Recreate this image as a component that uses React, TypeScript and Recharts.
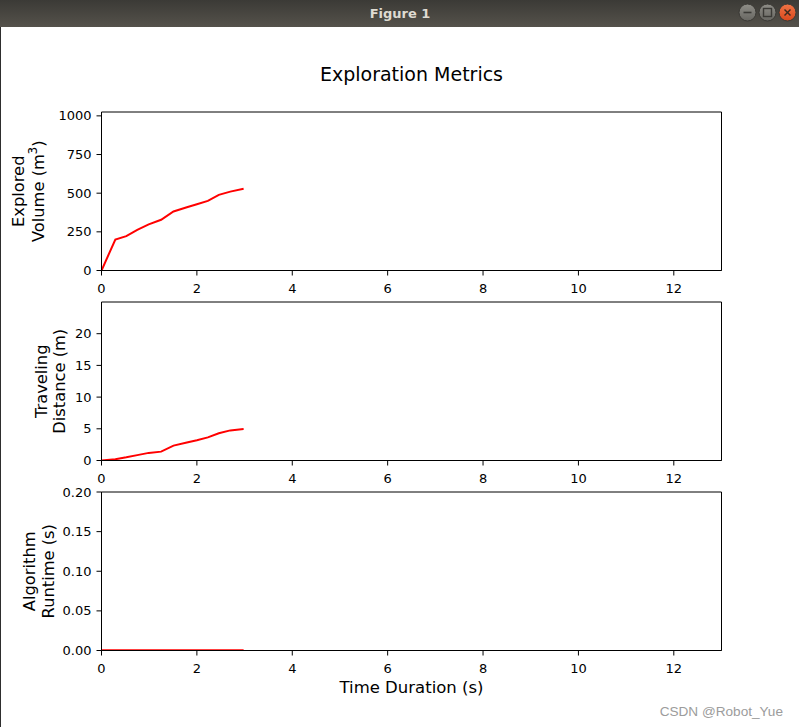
import React from 'react';
import { LineChart, Line, XAxis, YAxis, ReferenceArea } from 'recharts';

// ---- data ----
const timeS = [0, 0.29, 0.52, 0.75, 0.99, 1.25, 1.51, 1.79, 2.0, 2.23, 2.46, 2.7, 2.98];
const exploredVolume = [0, 200, 222, 263, 298, 328, 382, 409, 428, 450, 489, 510, 529];
const travelDistance = [0, 0.2, 0.5, 0.85, 1.2, 1.4, 2.35, 2.85, 3.2, 3.65, 4.3, 4.75, 4.95];
const algoRuntime = [0.0004, 0.0004, 0.0004, 0.0004, 0.0004, 0.0004, 0.0004, 0.0004, 0.0004, 0.0004, 0.0004, 0.0004, 0.0004];

const xTicks = [0, 2, 4, 6, 8, 10, 12];
const volumeTicks = [0, 250, 500, 750, 1000];
const distanceTicks = [0, 5, 10, 15, 20];
const runtimeTicks = [0, 0.05, 0.1, 0.15, 0.2];

const figureTitle = 'Exploration Metrics';
const xLabelText = 'Time Duration (s)';
const windowTitle = 'Figure 1';
const watermark = 'CSDN @Robot_Yue';

const FONT = "'DejaVu Sans', sans-serif";
const PLOT_TOP = 10;
const PLOT_H = 158.5;
const TICK_FS = 13;

type YLab = { line1: React.ReactNode; line2: React.ReactNode; b1: number; b2: number };

function makeYLabel(lab: YLab) {
  return (props: any) => {
    const vb = props && props.viewBox;
    const cy = vb && typeof vb.y === 'number' ? vb.y + vb.height / 2 : PLOT_TOP + PLOT_H / 2;
    const common = { textAnchor: 'middle' as const, fontSize: 16.3, fontFamily: FONT, fill: '#000' };
    return (
      <g>
        <text {...common} x={lab.b1} y={cy} transform={`rotate(-90 ${lab.b1} ${cy})`}>{lab.line1}</text>
        <text {...common} x={lab.b2} y={cy} transform={`rotate(-90 ${lab.b2} ${cy})`}>{lab.line2}</text>
      </g>
    );
  };
}

function renderXLabel(props: any) {
  const vb = props && props.viewBox;
  const cx = vb && typeof vb.x === 'number' ? vb.x + vb.width / 2 : 411.5;
  const y0 = vb && typeof vb.y === 'number' ? vb.y : PLOT_TOP + PLOT_H;
  return (
    <text x={cx} y={y0 + 42} textAnchor="middle" fontSize={16.5} fontFamily={FONT} fill="#000">
      {xLabelText}
    </text>
  );
}

function TickText(props: any) {
  const { x, y, payload, textAnchor, orientation, fmt } = props;
  const label = fmt ? fmt(payload.value) : String(payload.value);
  const dy = orientation === 'bottom' ? '0.71em' : '0.355em';
  return (
    <text x={x} y={y} dy={dy} textAnchor={textAnchor} fontSize={TICK_FS} fontFamily={FONT} fill="#000">
      {label}
    </text>
  );
}

type PanelProps = {
  top: number;
  xAxisHeight: number;
  values: number[];
  yDomain: [number, number];
  yTicks: number[];
  yFmt?: (v: number) => string;
  ylab: YLab;
  showXLabel?: boolean;
};

function Panel({ top, xAxisHeight, values, yDomain, yTicks, yFmt, ylab, showXLabel }: PanelProps) {
  const height = PLOT_TOP + PLOT_H + xAxisHeight;
  const data = timeS.map((t, i) => ({ t, v: values[i] }));
  return (
    <div style={{ position: 'absolute', left: 0, top, width: 799, height }}>
      <LineChart width={799} height={height} data={data} margin={{ top: PLOT_TOP, right: 77.5, bottom: 0, left: 0 }}>
        <XAxis
          dataKey="t"
          type="number"
          domain={[0, 13]}
          ticks={xTicks}
          interval={0}
          allowDataOverflow
          height={xAxisHeight}
          tickSize={5}
          tickMargin={8}
          tick={(p: any) => <TickText {...p} orientation="bottom" textAnchor="middle" />}
          tickLine={{ stroke: '#000' }}
          axisLine={{ stroke: '#000' }}
          label={showXLabel ? renderXLabel : undefined}
        />
        <YAxis
          type="number"
          domain={yDomain}
          ticks={yTicks}
          interval={0}
          allowDataOverflow
          width={101.5}
          tickSize={5}
          tickMargin={5}
          tick={(p: any) => <TickText {...p} orientation="left" textAnchor="end" fmt={yFmt} />}
          tickLine={{ stroke: '#000' }}
          axisLine={{ stroke: '#000' }}
          label={makeYLabel(ylab)}
        />
        <ReferenceArea
          x1={0}
          x2={13}
          y1={yDomain[0]}
          y2={yDomain[1]}
          fill="none"
          fillOpacity={0}
          stroke="#000"
          strokeWidth={1}
          ifOverflow="visible"
        />
        <Line dataKey="v" type="linear" stroke="#ff0000" strokeWidth={2} dot={false} isAnimationActive={false} />
      </LineChart>
    </div>
  );
}

function Decorations() {
  return (
    <svg width={799} height={727} style={{ position: 'absolute', left: 0, top: 0 }}>
      <defs>
        <linearGradient id="tb" x1="0" y1="0" x2="0" y2="1">
          <stop offset="0" stopColor="#3b3a36" />
          <stop offset="1" stopColor="#55524b" />
        </linearGradient>
        <linearGradient id="btn" x1="0" y1="0" x2="0" y2="1">
          <stop offset="0" stopColor="#8e8d87" />
          <stop offset="1" stopColor="#676661" />
        </linearGradient>
        <linearGradient id="cls" x1="0" y1="0" x2="0" y2="1">
          <stop offset="0" stopColor="#f07446" />
          <stop offset="1" stopColor="#d9481c" />
        </linearGradient>
      </defs>
      <rect x={0} y={0} width={799} height={727} fill="#ffffff" />
      <rect x={0} y={0} width={799} height={27} fill="url(#tb)" />
      <text x={400} y={17.5} textAnchor="middle" fontSize={13} fontWeight="bold" fontFamily={FONT} fill="#dfdbd2">
        {windowTitle}
      </text>
      <circle cx={747.5} cy={12.5} r={8.5} fill="url(#btn)" stroke="#3a3935" />
      <line x1={743.5} y1={12.5} x2={751.5} y2={12.5} stroke="#3b3a36" strokeWidth={1.6} />
      <circle cx={767.5} cy={12.5} r={8.5} fill="url(#btn)" stroke="#3a3935" />
      <rect x={763.5} y={8.5} width={8} height={8} fill="none" stroke="#3b3a36" strokeWidth={1.4} />
      <circle cx={787.5} cy={12.5} r={8.5} fill="url(#cls)" stroke="#3a3935" />
      <line x1={784.5} y1={9.5} x2={790.5} y2={15.5} stroke="#3b2a20" strokeWidth={1.4} />
      <line x1={790.5} y1={9.5} x2={784.5} y2={15.5} stroke="#3b2a20" strokeWidth={1.4} />
      <rect x={0} y={27} width={1} height={700} fill="#2e2e2e" />
      <text x={411.5} y={81} textAnchor="middle" fontSize={19} fontFamily={FONT} fill="#000">
        {figureTitle}
      </text>
      <text x={783} y={716} textAnchor="end" fontSize={13.6} fontFamily="'Liberation Sans', Arial, sans-serif" fill="#9c9c9c">
        {watermark}
      </text>
    </svg>
  );
}

export default function App() {
  return (
    <div style={{ position: 'absolute', left: 0, top: 0, width: 799, height: 727, overflow: 'hidden', background: '#fff' }}>
      <Decorations />
      <Panel
        top={101.5}
        xAxisHeight={25}
        values={exploredVolume}
        yDomain={[0, 1025]}
        yTicks={volumeTicks}
        ylab={{
          line1: 'Explored',
          line2: (
            <>
              <tspan>Volume (m</tspan>
              <tspan fontSize={11.5} dy={-7}>3</tspan>
              <tspan dy={7}>)</tspan>
            </>
          ),
          b1: 24,
          b2: 44,
        }}
      />
      <Panel
        top={291.5}
        xAxisHeight={25}
        values={travelDistance}
        yDomain={[0, 25]}
        yTicks={distanceTicks}
        ylab={{ line1: 'Traveling', line2: 'Distance (m)', b1: 46.5, b2: 65 }}
      />
      <Panel
        top={481.5}
        xAxisHeight={50}
        values={algoRuntime}
        yDomain={[0, 0.2]}
        yTicks={runtimeTicks}
        yFmt={(v: number) => v.toFixed(2)}
        ylab={{ line1: 'Algorithm', line2: 'Runtime (s)', b1: 35, b2: 53.5 }}
        showXLabel
      />
    </div>
  );
}
